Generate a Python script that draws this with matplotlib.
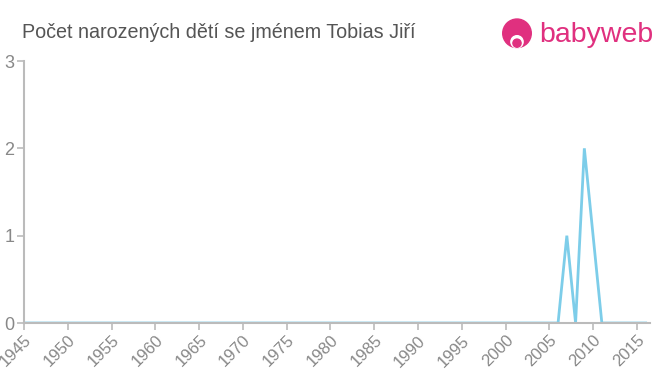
import matplotlib
matplotlib.use("Agg")
import matplotlib.pyplot as plt
from matplotlib.patches import Circle

years = list(range(1945, 2017))
counts = [0] * len(years)
peaks = {2007: 1, 2009: 2, 2010: 1}
for y, v in peaks.items():
    counts[years.index(y)] = v

xticks = list(range(1945, 2016, 5))
yticks = [0, 1, 2, 3]
title = "Počet narozených dětí se jménem Tobias Jiří"

plt.rcParams['font.family'] = ['Liberation Sans', 'DejaVu Sans']

fig = plt.figure(figsize=(6.6, 3.75), dpi=100)
ax = fig.add_axes([24/660, 52/375, 626/660, 262/375])
ax.plot(years, counts, color='#7dcde9', linewidth=2, solid_joinstyle='miter')
ax.set_xlim(1945, 2016.5)
ax.set_ylim(0, 3)
ax.set_xticks(xticks)
ax.set_xticklabels([str(t) for t in xticks], rotation=45, ha='right', rotation_mode='anchor')
ax.set_yticks(yticks)
for s in ['top', 'right']:
    ax.spines[s].set_visible(False)
for s in ['left', 'bottom']:
    ax.spines[s].set_color('#bbbbbb')
    ax.spines[s].set_linewidth(1.5)
ax.tick_params(axis='both', colors='#bbbbbb', labelcolor='#888888', length=5, width=1.2)
ax.tick_params(axis='x', labelsize=12, pad=2)
ax.tick_params(axis='y', labelsize=13, pad=2)

fig.text(22/660, 1 - 32/375, title, fontsize=14.2, color='#555555', va='center', ha='left')

# logo
pink = '#e0307f'
lax = fig.add_axes([500/660, 1 - 52/375, 34/660, 34/375])
lax.set_xlim(0, 1); lax.set_ylim(0, 1); lax.axis('off')
lax.add_patch(Circle((0.5, 0.55), 0.42, color=pink))
lax.add_patch(Circle((0.5, 0.3), 0.18, color='white'))
lax.add_patch(Circle((0.5, 0.26), 0.12, color=pink))
fig.text(539/660, 1 - 35/375, "babyweb", fontsize=20.5, color=pink, va='center', ha='left')

fig.savefig("out.png", dpi=100, facecolor='white')
